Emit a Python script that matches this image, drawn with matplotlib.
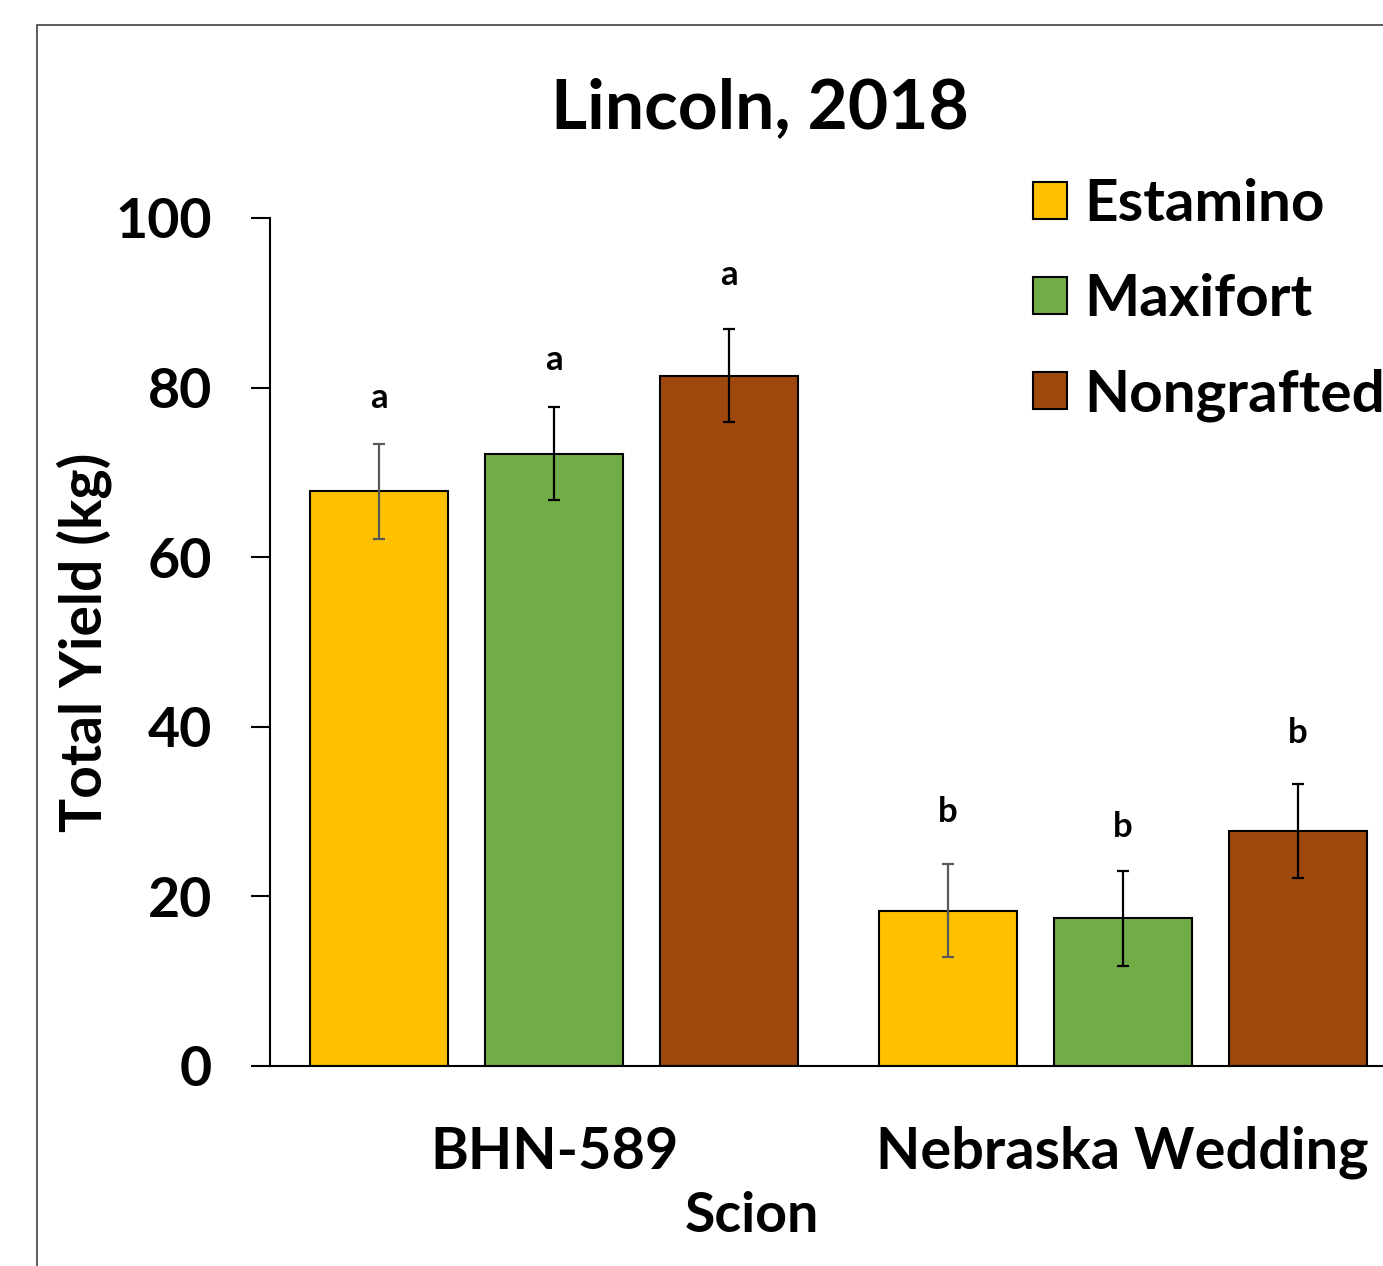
import matplotlib
matplotlib.use("Agg")
import matplotlib.pyplot as plt
import matplotlib.patches as mpatches
import numpy as np

plt.rcParams['font.family'] = ['Lato', 'DejaVu Sans']
plt.rcParams['font.weight'] = 'bold'

# ---- data ----
scions = ["BHN-589", "Nebraska Wedding"]
rootstocks = ["Estamino", "Maxifort", "Nongrafted"]
estamino = [67.8, 18.3]
maxifort = [72.2, 17.4]
nongrafted = [81.4, 27.7]
estamino_se = [5.6, 5.5]
maxifort_se = [5.5, 5.6]
nongrafted_se = [5.5, 5.5]
estamino_letters = ["a", "b"]
maxifort_letters = ["a", "b"]
nongrafted_letters = ["a", "b"]
estamino_letter_y = [77.6, 28.8]
maxifort_letter_y = [82.1, 27.0]
nongrafted_letter_y = [92.1, 38.1]
yticks = [0, 20, 40, 60, 80, 100]

colors = ["#FFC000", "#70AD47", "#9E480E"]
err_colors = ["#595959", "black", "black"]

W, H = 1383, 1266
fig = plt.figure(figsize=(W / 100, H / 100), dpi=100)

# chart-area border (cropped at right and bottom)
fig.patches.append(mpatches.Rectangle((37 / W, -0.2), 1.5, 1241 / H + 0.2,
                                      transform=fig.transFigure, fill=False,
                                      edgecolor="#404040", linewidth=1.2))

ax = fig.add_axes([270 / W, 200 / H, 1137 / W, 848 / H])

x = np.arange(len(scions))
offsets = [-0.308, 0.0, 0.308]
width = 0.243
series = [estamino, maxifort, nongrafted]
ses = [estamino_se, maxifort_se, nongrafted_se]
letters = [estamino_letters, maxifort_letters, nongrafted_letters]
letter_ys = [estamino_letter_y, maxifort_letter_y, nongrafted_letter_y]

handles = []
for i, name in enumerate(rootstocks):
    b = ax.bar(x + offsets[i], series[i], width, color=colors[i],
               edgecolor="black", linewidth=1.5, label=name, zorder=2)
    handles.append(b)
    ax.errorbar(x + offsets[i], series[i], yerr=ses[i], fmt="none",
                ecolor=err_colors[i], elinewidth=1.6, capsize=4.5,
                capthick=1.6, zorder=3)
    for j in range(len(x)):
        ax.text(x[j] + offsets[i], letter_ys[i][j], letters[i][j],
                ha="center", va="baseline", fontsize=25, fontweight="bold")

ax.set_xlim(-0.5, 1.5)
ax.set_ylim(0, 100)
ax.set_yticks(yticks)
ax.set_xticks(x)
ax.set_xticklabels(scions)
ax.tick_params(axis="y", direction="out", length=14, width=1.5, pad=28,
               labelsize=40)
ax.tick_params(axis="x", length=0, pad=43, labelsize=41.5)
for lab in ax.get_xticklabels() + ax.get_yticklabels():
    lab.set_fontweight("bold")

for s in ["top", "right"]:
    ax.spines[s].set_visible(False)
ax.spines["left"].set_linewidth(1.5)
ax.spines["bottom"].set_linewidth(1.5)

ax.set_ylabel("Total Yield (kg)", fontsize=41, fontweight="bold")
ax.yaxis.set_label_coords((102 - 270) / 1137, 0.5)
ax.yaxis.label.set_va("baseline")

ax.set_xlabel("Scion", fontsize=40, fontweight="bold")
ax.xaxis.set_label_coords((752 - 270) / 1137, (34 - 200) / 848)
ax.xaxis.label.set_va("baseline")

fig.text(760 / W, (H - 128) / H, "Lincoln, 2018", ha="center", va="baseline",
         fontsize=50, fontweight="bold")

leg = ax.legend(handles=handles, loc="upper left",
                bbox_to_anchor=(1033 / W, (H - 178) / H),
                bbox_transform=fig.transFigure, frameon=False,
                fontsize=42, handlelength=0.58, handleheight=0.58,
                handletextpad=0.3, labelspacing=0.72, borderpad=0,
                borderaxespad=0)
for t in leg.get_texts():
    t.set_fontweight("bold")

fig.savefig("out.png", dpi=100)
